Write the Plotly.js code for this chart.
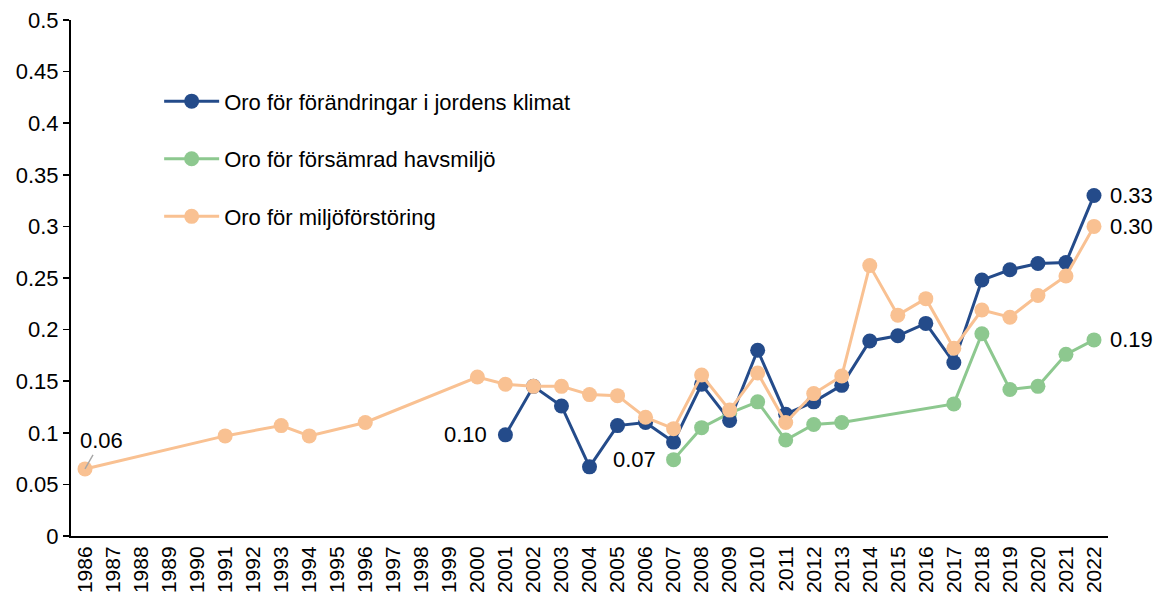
<!DOCTYPE html>
<html><head><meta charset="utf-8">
<script src="https://cdn.plot.ly/plotly-3.0.1.min.js"></script>
<style>body{margin:0;background:#fff}#c{width:1162px;height:595px}</style>
</head><body><div id="c"></div>
<script>
const years = [];
for (let y = 1986; y <= 2022; y++) years.push(String(y));

const klimatYears = ['2001','2002','2003','2004','2005','2006','2007','2008','2009','2010','2011','2012','2013','2014','2015','2016','2017','2018','2019','2020','2021','2022'];
const klimatVals  = [0.098,0.145,0.126,0.067,0.107,0.110,0.091,0.147,0.112,0.180,0.118,0.130,0.146,0.189,0.194,0.206,0.168,0.248,0.258,0.264,0.265,0.330];

const havYears = ['2007','2008','2009','2010','2011','2012','2013','2017','2018','2019','2020','2021','2022'];
const havVals  = [0.074,0.105,0.119,0.130,0.093,0.108,0.110,0.128,0.196,0.142,0.145,0.176,0.190];

const miljoYears = ['1986','1991','1993','1994','1996','2000','2001','2002','2003','2004','2005','2006','2007','2008','2009','2010','2011','2012','2013','2014','2015','2016','2017','2018','2019','2020','2021','2022'];
const miljoVals  = [0.065,0.097,0.107,0.097,0.110,0.154,0.147,0.145,0.145,0.137,0.136,0.115,0.104,0.156,0.122,0.158,0.110,0.138,0.155,0.262,0.214,0.230,0.182,0.219,0.212,0.233,0.252,0.300];

const names = ['Oro för förändringar i jordens klimat','Oro för försämrad havsmiljö','Oro för miljöförstöring'];
const colors = ['#244B8A','#8DC88F','#F9C192'];

function trace(xs, ys, i){
  return {x: xs, y: ys, type:'scatter', mode:'lines+markers', name: names[i], legendgroup:'g'+i,
    line:{color:colors[i], width:3}, marker:{color:colors[i], size:15}, hoverinfo:'x+y'};
}
const data = [trace(havYears, havVals, 1), trace(klimatYears, klimatVals, 0), trace(miljoYears, miljoVals, 2)];
data[1].legendrank = 1; data[0].legendrank = 2; data[2].legendrank = 3;

const F = 'Liberation Sans, Arial, sans-serif';
const idx = y => years.indexOf(y);
const af = {size:22, color:'#000', family:F};
const anns = [
  {x: idx(miljoYears[0]), y: miljoVals[0], text:'0.06', showarrow:true, arrowhead:0, arrowwidth:1.4, arrowcolor:'#a6a6a6', ax:16, ay:-28, standoff:0, font:af},
  {x: idx(klimatYears[0]), y: klimatVals[0], text:'0.10', showarrow:false, xanchor:'right', xshift:-16, font:af},
  {x: idx(havYears[0]), y: havVals[0], text:'0.07', showarrow:false, xanchor:'right', xshift:-16, font:af},
  {x: idx('2022'), y: klimatVals[klimatVals.length-1], text:'0.33', showarrow:false, xanchor:'left', xshift:14, font:af},
  {x: idx('2022'), y: miljoVals[miljoVals.length-1], text:'0.30', showarrow:false, xanchor:'left', xshift:14, font:af},
  {x: idx('2022'), y: havVals[havVals.length-1], text:'0.19', showarrow:false, xanchor:'left', xshift:14, font:af}
];

const layout = {
  width:1162, height:595,
  margin:{l:71, r:54, t:20, b:59},
  paper_bgcolor:'#fff', plot_bgcolor:'#fff',
  font:{family:F, size:22, color:'#000'},
  showlegend:true,
  legend:{x:0.085, y:0.883, xanchor:'left', yanchor:'top', traceorder:'grouped', tracegroupgap:26,
    font:{family:F, size:22, color:'#000'}, bgcolor:'rgba(0,0,0,0)', itemwidth:55},
  xaxis:{type:'category', categoryorder:'array', categoryarray:years, tickvals:years, ticktext:years,
    tickangle:-90, showline:true, linecolor:'#000', linewidth:2, ticks:'', showgrid:false, zeroline:false,
    tickfont:{family:F, size:21, color:'#000'}, range:[-0.5, 36.5]},
  yaxis:{range:[0,0.5], dtick:0.05, tick0:0, showline:true, linecolor:'#000', linewidth:2, ticks:'outside', ticklen:6, tickcolor:'#000', tickwidth:1.5,
    showgrid:false, zeroline:false, tickfont:{family:F, size:22, color:'#000'}},
  annotations: anns
};
Plotly.newPlot('c', data, layout, {displayModeBar:false, staticPlot:true});
</script></body></html>
